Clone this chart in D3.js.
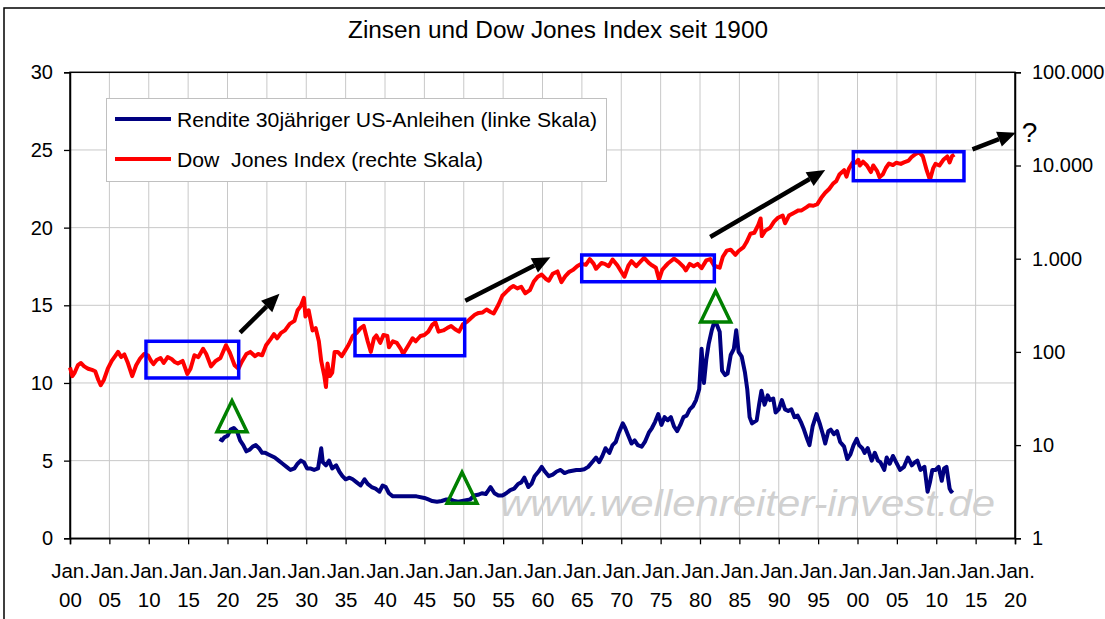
<!DOCTYPE html>
<html><head><meta charset="utf-8">
<script src="https://cdn.jsdelivr.net/npm/d3@7"></script>
<style>body{margin:0;background:#fff}svg{display:block}text{font-family:"Liberation Sans",Arial,sans-serif}</style>
</head><body>
<svg id="c" width="1105" height="619"></svg>
<script>
// ---------- data ----------
const title = "Zinsen und Dow Jones Index seit 1900";
const legendLabels = ["Rendite 30jähriger US-Anleihen (linke Skala)", "Dow  Jones Index (rechte Skala)"];
const xTickYears = d3.range(1900, 2021, 5);
const leftTicks = [0, 5, 10, 15, 20, 25, 30];
const rightTicks = [1, 10, 100, 1000, 10000, 100000];

const djYears = [1900.0,1900.3,1900.6,1901.0,1901.4,1901.8,1902.3,1902.8,1903.2,1903.6,1903.9,1904.3,1904.8,1905.3,1905.8,1906.1,1906.5,1906.9,1907.3,1907.9,1908.4,1908.9,1909.4,1909.9,1910.3,1910.6,1911.0,1911.5,1911.9,1912.4,1912.9,1913.3,1913.7,1914.3,1914.9,1915.3,1915.8,1916.3,1916.9,1917.3,1917.9,1918.5,1919.1,1919.8,1920.3,1920.9,1921.4,1921.8,1922.4,1922.9,1923.5,1923.9,1924.4,1924.9,1925.5,1925.9,1926.3,1926.8,1927.3,1927.9,1928.5,1928.9,1929.3,1929.7,1929.9,1930.3,1930.8,1931.2,1931.6,1931.9,1932.3,1932.5,1932.7,1933.0,1933.3,1933.6,1934.0,1934.5,1934.9,1935.4,1935.9,1936.4,1936.9,1937.3,1937.8,1938.2,1938.6,1938.9,1939.4,1939.8,1940.3,1940.5,1941.0,1941.5,1942.0,1942.3,1942.9,1943.5,1943.9,1944.5,1945.0,1945.5,1946.0,1946.4,1946.8,1947.4,1947.9,1948.4,1948.9,1949.4,1949.9,1950.4,1950.9,1951.4,1951.9,1952.4,1952.9,1953.4,1953.8,1954.4,1954.9,1955.4,1955.9,1956.3,1956.8,1957.3,1957.8,1958.4,1958.9,1959.4,1959.9,1960.4,1960.8,1961.3,1961.9,1962.4,1962.9,1963.4,1963.9,1964.4,1964.9,1965.5,1966.0,1966.5,1966.8,1967.5,1967.9,1968.4,1968.9,1969.5,1970.4,1970.9,1971.3,1971.9,1972.5,1972.9,1973.5,1973.9,1974.4,1974.8,1975.2,1975.6,1976.0,1976.7,1977.3,1977.9,1978.2,1978.7,1979.2,1979.7,1980.2,1980.8,1981.3,1981.8,1982.5,1982.9,1983.4,1983.9,1984.5,1984.9,1985.5,1985.9,1986.4,1986.9,1987.4,1987.7,1987.85,1988.3,1988.9,1989.4,1989.9,1990.5,1990.8,1991.3,1991.9,1992.5,1992.9,1993.5,1993.9,1994.4,1994.9,1995.4,1995.9,1996.4,1996.9,1997.3,1997.7,1998.3,1998.6,1998.9,1999.4,1999.8,2000.1,2000.3,2000.7,2001.2,2001.7,2002.0,2002.5,2002.8,2003.2,2003.6,2004.0,2004.5,2004.9,2005.5,2005.9,2006.5,2006.9,2007.4,2007.8,2008.3,2008.8,2009.2,2009.6,2009.9,2010.4,2010.9,2011.4,2011.7,2012.0,2012.3];
const djValues = [68,55,60,72,76,70,66,64,62,50,44,50,66,80,92,100,88,94,78,55,72,85,95,92,80,74,82,86,76,88,84,78,75,80,58,66,92,88,108,95,70,80,86,118,98,72,66,78,95,100,90,95,92,118,138,155,140,160,170,200,215,280,310,380,240,280,170,180,130,80,55,42,75,55,60,100,100,90,102,120,148,160,180,190,130,100,140,150,125,152,148,112,130,125,108,95,115,140,130,148,152,165,195,208,165,170,180,190,175,165,198,210,230,250,262,265,285,268,258,320,400,440,485,510,480,500,425,460,570,640,675,610,580,690,730,560,650,720,760,830,880,860,990,880,780,900,880,830,980,850,640,840,940,830,940,1020,900,850,800,600,760,830,900,1000,920,820,750,880,830,880,790,960,990,840,800,1050,1220,1250,1100,1210,1320,1500,1850,1900,2300,2700,1750,2000,2150,2500,2750,2900,2400,2900,3100,3300,3300,3550,3750,3700,3850,4500,5100,5600,6400,6800,8000,8900,7600,9200,10800,10700,11500,10000,11000,10000,8500,10000,8700,7500,8000,9400,10500,10100,10700,10400,10800,11300,12400,13300,13900,12500,8800,7000,9300,10400,10000,11500,12500,10800,12600,13100];

const bondYears = [1919.0,1919.3,1919.6,1920.0,1920.4,1920.8,1921.2,1921.6,1922.0,1922.4,1922.8,1923.2,1923.6,1924.0,1924.4,1924.8,1925.2,1925.6,1926.0,1926.5,1927.0,1927.5,1928.0,1928.5,1928.9,1929.3,1929.7,1930.1,1930.5,1931.0,1931.5,1931.9,1932.1,1932.5,1932.9,1933.3,1933.8,1934.2,1934.6,1935.0,1935.5,1935.9,1936.4,1936.9,1937.4,1937.8,1938.3,1938.8,1939.3,1939.7,1940.1,1940.5,1941.0,1941.5,1942.0,1943.0,1944.0,1945.0,1945.5,1946.0,1946.6,1947.2,1947.8,1948.3,1948.8,1949.3,1949.8,1950.3,1950.8,1951.3,1951.8,1952.3,1952.8,1953.4,1953.9,1954.4,1954.9,1955.4,1955.9,1956.4,1956.9,1957.3,1957.7,1958.2,1958.6,1959.0,1959.5,1959.9,1960.3,1960.8,1961.3,1961.8,1962.3,1962.8,1963.3,1963.8,1964.3,1964.8,1965.3,1965.8,1966.3,1966.8,1967.2,1967.6,1968.0,1968.5,1968.9,1969.3,1969.7,1970.2,1970.5,1970.9,1971.3,1971.7,1972.1,1972.6,1973.0,1973.5,1973.9,1974.3,1974.7,1975.1,1975.5,1975.9,1976.3,1976.7,1977.1,1977.5,1977.9,1978.3,1978.7,1979.1,1979.5,1979.9,1980.2,1980.5,1980.8,1981.1,1981.5,1981.8,1982.1,1982.5,1982.8,1983.2,1983.5,1983.9,1984.3,1984.6,1984.9,1985.3,1985.7,1986.0,1986.3,1986.6,1986.9,1987.2,1987.5,1987.8,1988.2,1988.6,1988.9,1989.3,1989.6,1990.0,1990.4,1990.8,1991.2,1991.6,1992.0,1992.4,1992.8,1993.2,1993.6,1993.9,1994.3,1994.8,1995.2,1995.6,1995.9,1996.3,1996.6,1997.0,1997.4,1997.8,1998.3,1998.7,1999.1,1999.5,1999.9,2000.2,2000.6,2000.9,2001.3,2001.8,2002.2,2002.6,2002.9,2003.4,2003.7,2004.1,2004.5,2004.9,2005.4,2005.9,2006.4,2006.9,2007.3,2007.6,2008.0,2008.5,2008.9,2009.2,2009.5,2009.9,2010.3,2010.7,2011.0,2011.3,2011.7,2011.9,2012.1];
const bondValues = [6.4,6.3,6.5,6.6,7.0,7.1,6.9,6.3,6.0,5.6,5.7,5.9,6.0,5.8,5.5,5.5,5.4,5.3,5.2,5.0,4.8,4.6,4.4,4.5,4.8,5.0,4.9,4.5,4.5,4.4,4.5,5.8,4.9,4.7,5.0,4.5,4.7,4.3,4.0,3.8,3.9,3.8,3.6,3.4,3.8,3.5,3.3,3.2,3.0,3.4,3.3,2.9,2.7,2.7,2.7,2.7,2.7,2.6,2.5,2.4,2.35,2.4,2.5,2.5,2.4,2.35,2.4,2.45,2.5,2.75,2.8,2.9,2.85,3.3,2.9,2.75,2.75,2.9,3.1,3.2,3.5,3.6,3.9,3.3,3.5,4.0,4.3,4.6,4.3,4.0,4.1,4.3,4.4,4.2,4.3,4.35,4.4,4.4,4.45,4.6,4.9,5.2,4.9,5.3,5.8,5.5,6.0,6.2,6.8,7.4,7.1,6.6,6.1,6.3,6.0,5.9,6.2,6.8,7.1,7.5,8.0,7.3,7.8,7.6,7.8,7.2,6.9,7.3,7.8,7.9,8.3,8.5,8.9,9.6,12.2,10.0,11.5,12.5,13.4,13.9,13.8,13.3,10.8,10.5,10.6,11.8,12.2,13.4,12.0,11.7,10.7,9.6,7.8,7.4,7.5,7.6,8.6,9.5,8.6,9.2,8.9,9.0,8.1,8.3,8.9,8.3,8.2,8.3,7.8,7.9,7.5,7.0,6.4,6.0,7.2,8.0,7.4,6.7,6.1,6.9,7.0,6.7,6.9,6.2,5.9,5.1,5.4,6.0,6.4,6.0,5.8,5.5,5.8,5.0,5.5,5.0,4.9,4.4,5.2,4.8,5.3,4.9,4.4,4.6,5.2,4.7,4.9,5.0,4.4,4.6,3.0,3.6,4.4,4.4,4.6,3.7,4.5,4.6,3.2,3.0,3.1];

// annotation boxes: [startYear, endYear, djLow, djHigh]
const boxes = [[1909.65,1921.42,52.5,130],[1936.19,1950.12,91,224],[1964.98,1981.82,566,1096],[1999.47,2013.52,6870,14060]];
// arrows: [fromYear, fromDJ, toYear, toDJ]
const arrows = [[1921.6,161,1926.6,420],[1950.2,354,1961.0,1035],[1981.3,1710,1995.9,8950],[2014.6,14930,2020.1,22480]];
// triangles: [year, yield]
const triangles = [[1920.57,6.86],[1949.78,2.25],[1981.99,13.93]];
const question = [2020.85, 17740];
const watermark = "www.wellenreiter-invest.de";

// ---------- chart ----------
const svg = d3.select("#c");
const L = 70, R = 1015, T = 72.3, B = 538.3;
const x = d3.scaleLinear().domain([1900, 2020]).range([L, R]);
const yL = d3.scaleLinear().domain([0, 30]).range([B, T]);
const yR = d3.scaleLog().domain([1, 100000]).range([B, T]);
const de = d3.formatLocale({decimal: ",", thousands: ".", grouping: [3], currency: ["", "€"]});
const fmtR = de.format(",d");

// outer frame
svg.append("rect").attr("x", 4).attr("y", 8).attr("width", 1120).attr("height", 640)
  .attr("fill", "none").attr("stroke", "#000").attr("stroke-width", 1.5);

// title
svg.append("text").attr("x", 558).attr("y", 37.5).attr("text-anchor", "middle")
  .attr("font-size", 23).attr("textLength", 420).attr("lengthAdjust", "spacingAndGlyphs").text(title);

// grid
const grid = svg.append("g").attr("stroke", "#c8c8c8").attr("stroke-width", 1);
xTickYears.slice(1, -1).forEach(v => grid.append("line").attr("x1", x(v)).attr("x2", x(v)).attr("y1", T).attr("y2", B));
leftTicks.slice(1, -1).forEach(v => grid.append("line").attr("x1", L).attr("x2", R).attr("y1", yL(v)).attr("y2", yL(v)));

// watermark
svg.append("text").attr("x", 500).attr("y", 516).attr("font-size", 37).attr("font-style", "italic")
  .attr("fill", "#d0d0d0").attr("textLength", 495).attr("lengthAdjust", "spacingAndGlyphs").text(watermark);

// plot border
svg.append("rect").attr("x", L).attr("y", T).attr("width", R - L).attr("height", B - T)
  .attr("fill", "none").attr("stroke", "#000").attr("stroke-width", 1.5);

// axes
const axL = svg.append("g").attr("transform", `translate(${L},0)`)
  .call(d3.axisLeft(yL).tickValues(leftTicks).tickSize(6).tickPadding(11));
const axR = svg.append("g").attr("transform", `translate(${R},0)`)
  .call(d3.axisRight(yR).tickValues(rightTicks).tickFormat(fmtR).tickSize(6).tickPadding(11));
const axB = svg.append("g").attr("transform", `translate(0,${B})`)
  .call(d3.axisBottom(x).tickValues(xTickYears).tickSize(6));
[axL, axR, axB].forEach(g => {
  g.select(".domain").attr("stroke", "#000").attr("stroke-width", 1.5);
  g.selectAll(".tick line").attr("stroke", "#000").attr("stroke-width", 1.3);
  g.selectAll("text").attr("font-size", 20).attr("fill", "#000").attr("font-family", '"Liberation Sans",Arial,sans-serif');
});
axB.selectAll(".tick text").each(function(d) {
  const t = d3.select(this).text("").attr("dy", null).attr("y", 0).attr("font-size", 20.5);
  t.append("tspan").attr("x", 0).attr("y", 39.5).text("Jan.");
  t.append("tspan").attr("x", 0).attr("y", 69).text(String(d % 100).padStart(2, "0"));
});

// series
const djData = djYears.map((yr, i) => [yr, djValues[i]]);
const bondData = bondYears.map((yr, i) => [yr, bondValues[i]]);
svg.append("path").datum(bondData).attr("fill", "none").attr("stroke", "#000080").attr("stroke-width", 4)
  .attr("stroke-linejoin", "round").attr("d", d3.line().x(d => x(d[0])).y(d => yL(d[1])));
svg.append("path").datum(djData).attr("fill", "none").attr("stroke", "#ff0000").attr("stroke-width", 4)
  .attr("stroke-linejoin", "round").attr("d", d3.line().x(d => x(d[0])).y(d => yR(d[1])));

// boxes
svg.append("g").selectAll("rect").data(boxes).join("rect")
  .attr("x", d => x(d[0])).attr("y", d => yR(d[3]))
  .attr("width", d => x(d[1]) - x(d[0])).attr("height", d => yR(d[2]) - yR(d[3]))
  .attr("fill", "none").attr("stroke", "#0000ff").attr("stroke-width", 3.5);

// triangles
svg.append("g").selectAll("path").data(triangles).join("path")
  .attr("d", d => { const cx = x(d[0]), by = yL(d[1]); return `M${cx - 15},${by}L${cx},${by - 31}L${cx + 15},${by}Z`; })
  .attr("fill", "none").attr("stroke", "#008000").attr("stroke-width", 3.5).attr("stroke-linejoin", "miter");

// arrows
const ag = svg.append("g");
arrows.forEach(a => {
  const x1 = x(a[0]), y1 = yR(a[1]), x2 = x(a[2]), y2 = yR(a[3]);
  const ang = Math.atan2(y2 - y1, x2 - x1), hl = 18, hw = 8;
  const bx = x2 - hl * Math.cos(ang), by = y2 - hl * Math.sin(ang);
  ag.append("line").attr("x1", x1).attr("y1", y1).attr("x2", bx).attr("y2", by)
    .attr("stroke", "#000").attr("stroke-width", 4.5);
  const px = -Math.sin(ang) * hw, py = Math.cos(ang) * hw;
  ag.append("path").attr("d", `M${x2},${y2}L${bx + px},${by + py}L${bx - px},${by - py}Z`).attr("fill", "#000");
});
svg.append("text").attr("x", x(question[0])).attr("y", yR(question[1])).attr("font-size", 28).text("?");

// legend
const lg = svg.append("g");
lg.append("rect").attr("x", 106.5).attr("y", 98.5).attr("width", 500).attr("height", 83)
  .attr("fill", "#fff").attr("stroke", "#c0c0c0").attr("stroke-width", 1);
const lcol = ["#000080", "#ff0000"], ly = [119, 159], lw = [420, 306];
legendLabels.forEach((t, i) => {
  lg.append("line").attr("x1", 115).attr("x2", 171).attr("y1", ly[i]).attr("y2", ly[i])
    .attr("stroke", lcol[i]).attr("stroke-width", 4);
  lg.append("text").attr("x", 177).attr("y", ly[i] + 7.5).attr("font-size", 21)
    .attr("textLength", lw[i]).attr("lengthAdjust", "spacingAndGlyphs").style("white-space", "pre").text(t);
});
</script>
</body></html>
